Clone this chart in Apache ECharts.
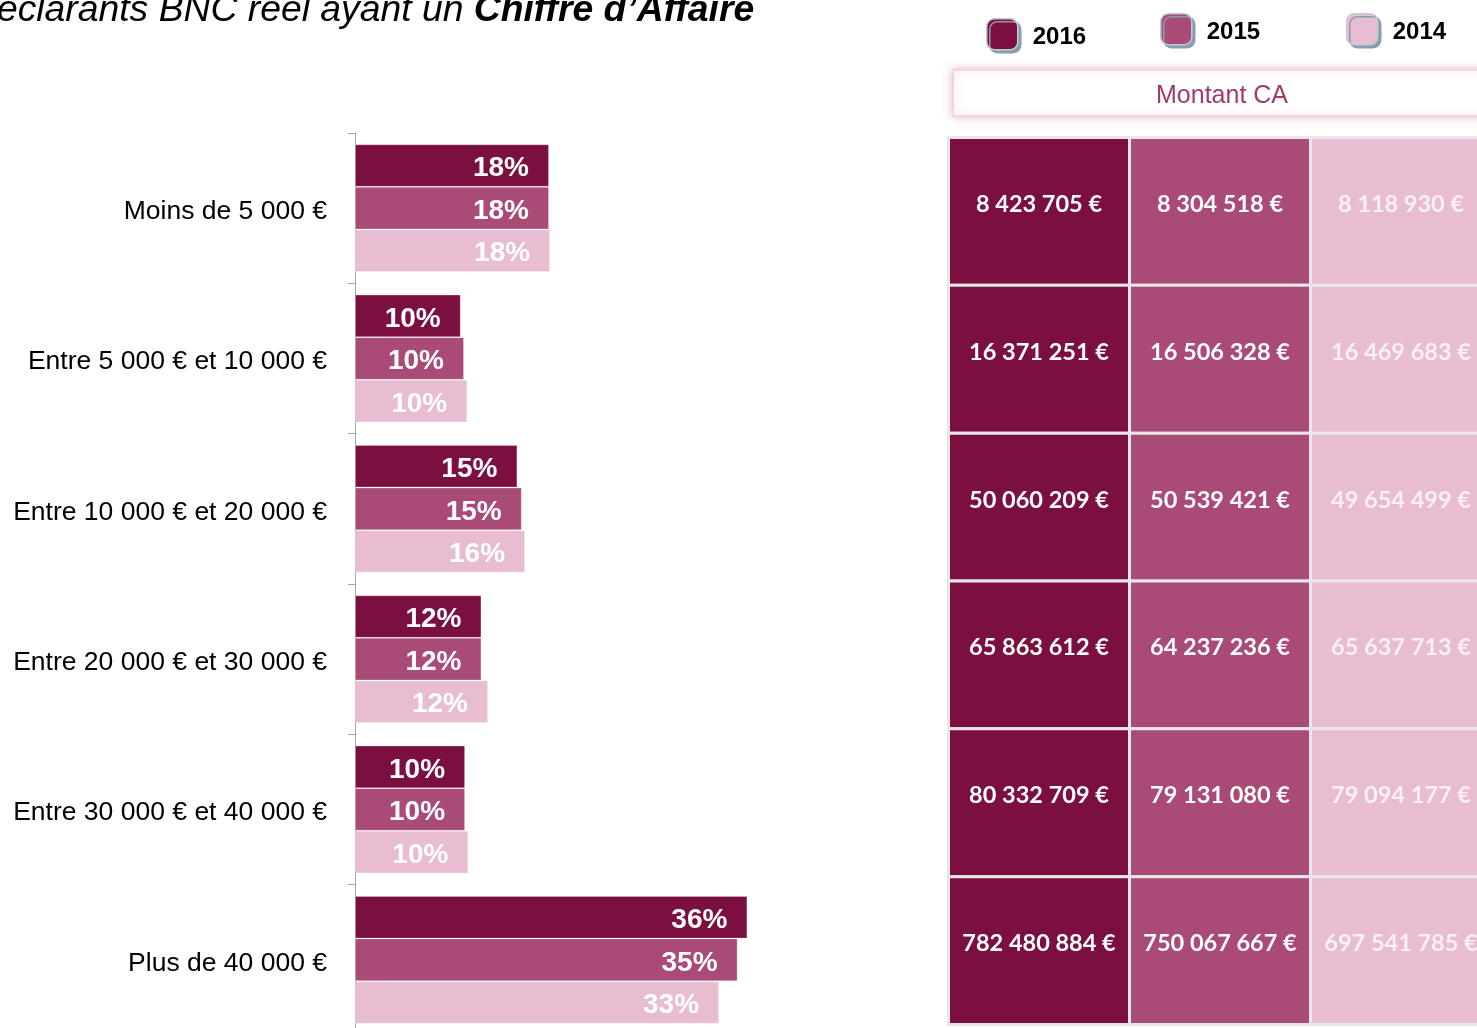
<!DOCTYPE html>
<html>
<head>
<meta charset="utf-8">
<script src="https://cdn.jsdelivr.net/npm/echarts@6/dist/echarts.min.js"></script>
<style>
  html, body { margin: 0; padding: 0; background: #fff; }
  #chart { width: 1477px; height: 1028px; }
</style>
</head>
<body>
<div id="chart"></div>
<script>
// tranches de CA
var ranges = ['Moins de 5 000 €', 'Entre 5 000 € et 10 000 €', 'Entre 10 000 € et 20 000 €',
              'Entre 20 000 € et 30 000 €', 'Entre 30 000 € et 40 000 €', 'Plus de 40 000 €'];
var years = ['2016', '2015', '2014'];

// part des déclarants (%)
var share2016 = [17.8, 9.7, 14.9, 11.6, 10.1, 36.0];
var share2015 = [17.8, 10.0, 15.3, 11.6, 10.1, 35.1];
var share2014 = [17.9, 10.3, 15.6, 12.2, 10.4, 33.4];

// montant CA (€)
var ca2016 = [8423705, 16371251, 50060209, 65863612, 80332709, 782480884];
var ca2015 = [8304518, 16506328, 50539421, 64237236, 79131080, 750067667];
var ca2014 = [8118930, 16469683, 49654499, 65637713, 79094177, 697541785];

var colors = ['#7B1040', '#AA4A76', '#E9BDD1'];

var chart = echarts.init(document.getElementById('chart'));

function euro(v) {
    return String(v).replace(/\B(?=(\d{3})+(?!\d))/g, ' ') + ' €';
}

var amounts = [ca2016, ca2015, ca2014];

var tableData = [];
years.forEach(function (y, j) {
    ranges.forEach(function (r, i) {
        tableData.push([j, i, amounts[j][i]]);
    });
});

var legendPos = [[986, 18], [1160, 13], [1346, 13]];

var option = {
    backgroundColor: '#fff',
    animation: false,
    color: colors,
    legend: years.map(function (y, i) {
        return {
            data: [y],
            left: legendPos[i][0],
            top: legendPos[i][1],
            padding: 0,
            icon: 'roundRect',
            itemWidth: 31,
            itemHeight: 31,
            itemStyle: {
                borderColor: '#BFCCD8',
                borderWidth: 1.5,
                shadowColor: '#8A9CAF',
                shadowOffsetX: 3,
                shadowOffsetY: 3,
                shadowBlur: 0
            },
            formatter: '{t|{name}}',
            textStyle: {
                rich: {
                    t: {
                        fontFamily: 'Liberation Sans, Arial',
                        fontWeight: 'bold',
                        fontSize: 24,
                        color: '#000',
                        padding: [7, 0, 0, 10]
                    }
                }
            },
            selectedMode: false
        };
    }),
    grid: [
        {left: 355, top: 133, width: 436, height: 902, outerBoundsMode: 'none'},
        {left: 948.5, top: 137.5, width: 543, height: 887, outerBoundsMode: 'none'}
    ],
    xAxis: [
        {type: 'value', gridIndex: 0, min: 0, max: 40, show: false},
        {type: 'category', gridIndex: 1, data: years, show: false}
    ],
    yAxis: [
        {
            type: 'category',
            gridIndex: 0,
            data: ranges,
            inverse: true,
            axisLine: {show: true, lineStyle: {color: '#A6A6A6', width: 1}},
            axisTick: {show: true, length: 7, lineStyle: {color: '#A6A6A6'}},
            axisLabel: {
                margin: 28,
                formatter: '{c|{value}}',
                rich: {
                    c: {
                        fontFamily: 'Liberation Sans, Arial',
                        fontSize: 26.5,
                        color: '#000',
                        padding: [7, 0, 0, 0]
                    }
                }
            }
        },
        {type: 'category', gridIndex: 1, data: ranges, inverse: true, show: false}
    ],
    graphic: [
        {
            type: 'text',
            left: -30,
            top: -8,
            style: {
                text: '{n|Déclarants BNC réel ayant un }{b|Chiffre d’Affaire}',
                rich: {
                    n: {fontFamily: 'Liberation Sans, Arial', fontStyle: 'italic', fontSize: 37.3, fill: '#000'},
                    b: {fontFamily: 'Liberation Sans, Arial', fontStyle: 'italic', fontWeight: 'bold', fontSize: 37.3, fill: '#000'}
                }
            }
        },
        {
            type: 'rect',
            shape: {x: 953, y: 70, width: 560, height: 46},
            style: {
                fill: '#fff',
                stroke: '#EFCFDD',
                lineWidth: 1.5,
                shadowBlur: 8,
                shadowColor: 'rgba(210,120,165,0.55)'
            }
        },
        {
            type: 'text',
            x: 1222,
            y: 96,
            style: {
                text: 'Montant CA',
                fontFamily: 'Liberation Sans, Arial',
                fontSize: 25,
                fill: '#A3386C',
                align: 'center',
                verticalAlign: 'middle'
            }
        }
    ],
    series: [
        {
            name: '2016', type: 'bar', data: share2016, barGap: '0%', barCategoryGap: '15%'
        },
        {
            name: '2015', type: 'bar', data: share2015, barGap: '0%', barCategoryGap: '15%'
        },
        {
            name: '2014', type: 'bar', data: share2014, barGap: '0%', barCategoryGap: '15%'
        },
        {
            name: 'Montant CA',
            type: 'custom',
            xAxisIndex: 1,
            yAxisIndex: 1,
            data: tableData,
            renderItem: function (params, api) {
                var c = api.coord([api.value(0), api.value(1)]);
                var s = api.size([1, 1]);
                var j = api.value(0);
                return {
                    type: 'group',
                    children: [
                        {
                            type: 'rect',
                            shape: {x: c[0] - s[0] / 2, y: c[1] - s[1] / 2, width: s[0], height: s[1]},
                            style: {fill: colors[j], stroke: '#E8E8E8', lineWidth: 3}
                        },
                        {
                            type: 'text',
                            x: c[0],
                            y: c[1] - 7,
                            style: {
                                text: euro(api.value(2)),
                                fontFamily: 'Lato, Open Sans',
                                fontWeight: 'bold',
                                fontSize: 23.5,
                                fill: j === 2 ? '#FAF0F5' : '#fff',
                                align: 'center',
                                verticalAlign: 'middle'
                            }
                        }
                    ]
                };
            }
        }
    ]
};

[0, 1, 2].forEach(function (k) {
    option.series[k].label = {
        show: true,
        position: 'insideRight',
        distance: 20,
        offset: [0, 3],
        formatter: function (p) { return Math.round(p.value) + '%'; },
        fontFamily: 'Liberation Sans, Arial',
        fontWeight: 'bold',
        fontSize: 28,
        color: '#fff'
    };
    option.series[k].itemStyle = {borderColor: 'rgba(255,255,255,0.25)', borderWidth: 1};
});

chart.setOption(option);
</script>
</body>
</html>
